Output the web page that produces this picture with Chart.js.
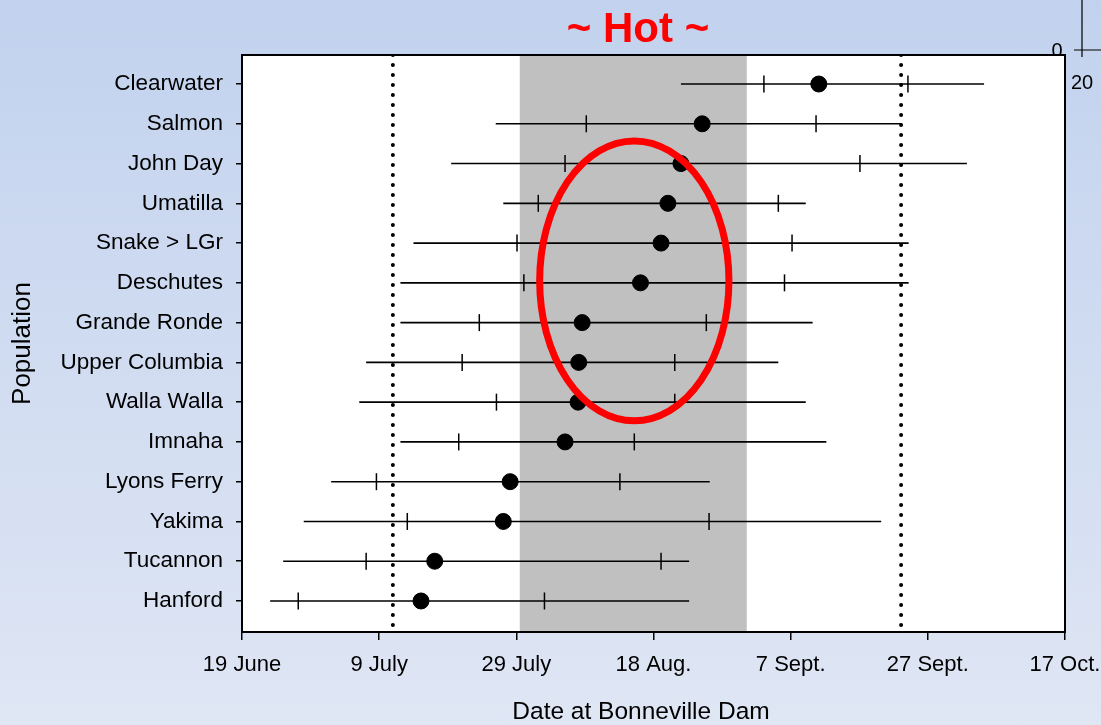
<!DOCTYPE html>
<html>
<head>
<meta charset="utf-8">
<script src="https://cdn.jsdelivr.net/npm/chart.js@4.4.0/dist/chart.umd.min.js"></script>
<style>
  html, body { margin: 0; padding: 0; }
  body {
    width: 1101px; height: 725px; overflow: hidden;
    background: linear-gradient(to bottom, #c2d2ee, #dfe6f4);
  }
  #wrap { position: relative; width: 1101px; height: 725px; }
</style>
</head>
<body>
<div id="wrap"><canvas id="runTiming"></canvas></div>
<script>
// run timing at Bonneville Dam, days counted from 19 June
const populations = ["Clearwater", "Salmon", "John Day", "Umatilla", "Snake > LGr", "Deschutes",
  "Grande Ronde", "Upper Columbia", "Walla Walla", "Imnaha", "Lyons Ferry", "Yakima", "Tucannon", "Hanford"];
const minDay    = [64.0, 37.0, 30.5, 38.1, 25.0, 23.1, 23.1, 18.1, 17.1, 23.1, 13.0,  9.0,  6.0,  4.1];
const lowDay    = [76.1, 50.2, 47.1, 43.2, 40.1, 41.1, 34.6, 32.1, 37.1, 31.6, 19.6, 24.1, 18.1,  8.2];
const medianDay = [84.1, 67.1, 64.0, 62.1, 61.1, 58.1, 49.6, 49.1, 49.0, 47.1, 39.1, 38.1, 28.1, 26.1];
const highDay   = [97.1, 83.7, 90.1, 78.2, 80.2, 79.1, 67.7, 63.1, 63.1, 57.2, 55.1, 68.1, 61.1, 44.1];
const maxDay    = [108.2, 96.2, 105.7, 82.2, 97.2, 97.2, 83.2, 78.2, 82.2, 85.2, 68.2, 93.2, 65.2, 65.2];

const tickDays = [0, 20, 40, 60, 80, 100, 120];
const tickLabels = ["19 June", "9 July", "29 July", "18 Aug.", "7 Sept.", "27 Sept.", "17 Oct."];

const hotPeriod = [40.5, 73.6];      // grey band
const dottedDays = [22.0, 96.1];     // dotted reference lines
const yRange = [-0.73, 13.78];

// red ellipse around the "hot" group: centre day/row and half sizes
const hotRing = { day: 57.2, row: 4.95, days: 13.8, rows: 3.52 };

const FONT = "'Liberation Sans', Arial, sans-serif";

const rangeSets = populations.map((p, i) => ({
  type: "line",
  data: [{ x: minDay[i], y: i }, { x: maxDay[i], y: i }],
  borderColor: "#000",
  borderWidth: 1.6,
  pointRadius: 0,
  order: 3
}));

const dottedSets = dottedDays.map(d => ({
  type: "line",
  data: [{ x: d, y: yRange[0] }, { x: d, y: yRange[1] }],
  borderColor: "#000",
  borderWidth: 4,
  borderDash: [0, 10],
  borderCapStyle: "round",
  pointRadius: 0,
  order: 4
}));

const tickSet = {
  type: "scatter",
  data: populations.flatMap((p, i) => [{ x: lowDay[i], y: i }, { x: highDay[i], y: i }]),
  pointStyle: "line",
  rotation: 90,
  pointRadius: 8.5,
  pointBorderWidth: 1.5,
  borderColor: "#000",
  order: 2
};

const medianSet = {
  type: "scatter",
  data: populations.map((p, i) => ({ x: medianDay[i], y: i })),
  pointRadius: 8,
  pointBackgroundColor: "#000",
  pointBorderColor: "#000",
  order: 1
};

const plotFrame = {
  id: "plotFrame",
  beforeDraw(chart) {
    const { ctx, chartArea: a } = chart;
    ctx.save();
    // leftover bits of a neighbouring graphic at top right
    ctx.strokeStyle = "#000";
    ctx.lineWidth = 1.2;
    ctx.beginPath();
    ctx.moveTo(1082, 0); ctx.lineTo(1082, 57);
    ctx.moveTo(1074, 50); ctx.lineTo(1101, 50);
    ctx.stroke();
    ctx.fillStyle = "#000";
    ctx.font = "20px " + FONT;
    ctx.textAlign = "center";
    ctx.fillText("0", 1057, 57);
    ctx.fillText("20", 1082, 89);
    ctx.fillStyle = "#fff";
    ctx.fillRect(a.left, a.top, a.width, a.height);
    ctx.restore();
  },
  beforeDatasetsDraw(chart) {
    const { ctx, chartArea: a, scales: { x } } = chart;
    const x0 = x.getPixelForValue(hotPeriod[0]);
    const x1 = x.getPixelForValue(hotPeriod[1]);
    ctx.save();
    ctx.fillStyle = "#c0c0c0";
    ctx.fillRect(x0, a.top, x1 - x0, a.height);
    ctx.restore();
  },
  afterDatasetsDraw(chart) {
    const { ctx, scales: { x, y } } = chart;
    const cx = x.getPixelForValue(hotRing.day);
    const cy = y.getPixelForValue(hotRing.row);
    const rx = Math.abs(x.getPixelForValue(hotRing.day + hotRing.days) - cx);
    const ry = Math.abs(y.getPixelForValue(hotRing.row + hotRing.rows) - cy);
    ctx.save();
    ctx.strokeStyle = "#ff0000";
    ctx.lineWidth = 7;
    ctx.beginPath();
    ctx.ellipse(cx, cy, rx, ry, 0, 0, Math.PI * 2);
    ctx.stroke();
    ctx.restore();
  },
  afterDraw(chart) {
    const { ctx, chartArea: a } = chart;
    ctx.save();
    ctx.strokeStyle = "#000";
    ctx.lineWidth = 2;
    ctx.strokeRect(a.left, a.top, a.width, a.height);
    ctx.textAlign = "center";
    ctx.textBaseline = "alphabetic";
    ctx.fillStyle = "#ff0000";
    ctx.font = "bold 42px " + FONT;
    ctx.fillText("~ Hot ~", 638, 42);
    ctx.fillStyle = "#000";
    ctx.font = "24.5px " + FONT;
    ctx.fillText("Date at Bonneville Dam", 641, 719);
    ctx.restore();
  }
};

new Chart(document.getElementById("runTiming"), {
  type: "scatter",
  data: { datasets: [...rangeSets, ...dottedSets, tickSet, medianSet] },
  options: {
    responsive: true,
    maintainAspectRatio: false,
    animation: false,
    events: [],
    layout: { padding: { top: 55, right: 36, bottom: 0, left: 0 } },
    plugins: { legend: { display: false }, tooltip: { enabled: false } },
    scales: {
      x: {
        type: "linear",
        min: 0,
        max: 120,
        afterBuildTicks: s => { s.ticks = tickDays.map(v => ({ value: v })); },
        afterFit: s => { s.height = 93; s.paddingLeft = 0; s.paddingRight = 0; },
        grid: { drawOnChartArea: false, drawTicks: true, tickLength: 8, color: "#000", lineWidth: 1.5 },
        border: { display: true, color: "#000", width: 2 },
        ticks: {
          autoSkip: false,
          maxRotation: 0,
          padding: 12,
          color: "#000",
          font: { family: FONT, size: 22 },
          callback: v => tickLabels[tickDays.indexOf(v)]
        }
      },
      y: {
        type: "linear",
        reverse: true,
        min: yRange[0],
        max: yRange[1],
        afterBuildTicks: s => { s.ticks = populations.map((p, i) => ({ value: i })); },
        afterFit: s => { s.width = 242; s.paddingTop = 0; s.paddingBottom = 0; },
        grid: { drawOnChartArea: false, drawTicks: true, tickLength: 6, color: "#000", lineWidth: 1.5 },
        border: { display: true, color: "#000", width: 2 },
        ticks: {
          autoSkip: false,
          padding: 13,
          color: "#000",
          font: { family: FONT, size: 22.5 },
          callback: v => populations[v]
        },
        title: {
          display: true,
          text: "Population",
          color: "#000",
          font: { family: FONT, size: 26, lineHeight: 1 },
          padding: { top: 10, bottom: 0 }
        }
      }
    }
  },
  plugins: [plotFrame]
});
</script>
</body>
</html>
